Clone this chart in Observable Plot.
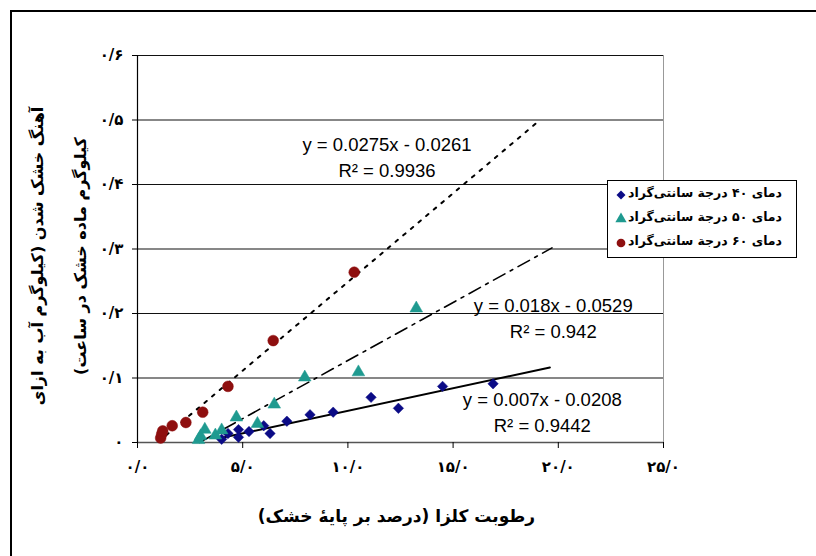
<!DOCTYPE html>
<html>
<head>
<meta charset="utf-8">
<script src="https://cdn.jsdelivr.net/npm/d3@7"></script>
<script src="https://cdn.jsdelivr.net/npm/@observablehq/plot@0.6"></script>
<style>
  html, body { margin: 0; padding: 0; background: #fff; }
  #wrap { position: relative; width: 816px; height: 556px; overflow: hidden; background: #fff; }
  #frame { position: absolute; left: 10px; top: 10px; width: 900px; height: 700px;
           border-top: 2px solid #000; border-left: 2px solid #000; box-sizing: border-box; pointer-events: none; }
  #legend { position: absolute; left: 607px; top: 180px; width: 190px; height: 78px;
            border: 1.5px solid #000; background: #fff; box-sizing: border-box;
            font-family: "DejaVu Sans", sans-serif; font-weight: bold; font-size: 12.5px; }
  .lrow { position: absolute; left: 0; width: 100%; height: 20px; }
  .lrow svg { position: absolute; left: 5px; top: 3px; }
  .lrow span { position: absolute; right: 14px; top: 1px; direction: rtl; white-space: nowrap; }
</style>
</head>
<body>
<div id="wrap"><div id="frame"></div></div>
<script>
// ---- data ----
const seriesNames = ["دمای ۴۰ درجة سانتی‌گراد", "دمای ۵۰ درجة سانتی‌گراد", "دمای ۶۰ درجة سانتی‌گراد"];
const seriesColors = ["#0b0b86", "#1f9a90", "#8e0f0f"];

const t40x = [4.0, 4.3, 4.8, 4.8, 5.3, 6.0, 6.3, 7.1, 8.2, 9.3, 11.1, 12.4, 14.5, 16.9];
const t40y = [0.005, 0.014, 0.020, 0.008, 0.017, 0.026, 0.014, 0.033, 0.043, 0.047, 0.070, 0.053, 0.087, 0.091];

const t50x = [2.9, 3.0, 3.2, 3.7, 4.0, 4.7, 5.7, 6.5, 7.95, 10.5, 13.25];
const t50y = [0.004, 0.010, 0.020, 0.011, 0.019, 0.039, 0.029, 0.059, 0.101, 0.109, 0.208];

const t60x = [1.1, 1.15, 1.2, 1.65, 2.3, 3.1, 4.3, 6.45, 10.3];
const t60y = [0.007, 0.013, 0.018, 0.026, 0.031, 0.047, 0.087, 0.158, 0.264];

// trendlines (Excel equations shown on the chart)
const slopes = [0.007, 0.018, 0.0275];
const intercepts = [-0.0208, -0.0529, -0.0261];
const trendFrom = [3.9, 2.94, 1.0];
const trendTo = [19.6, 19.7, 19.0];
const eqTexts = ["y = 0.007x - 0.0208", "y = 0.018x - 0.0529", "y = 0.0275x - 0.0261"];
const r2Texts = ["R² = 0.9442", "R² = 0.942", "R² = 0.9936"];

// axes
const xTicks = [0, 5, 10, 15, 20, 25];
const xTickLabels = ["۰/۰", "۵/۰", "۱۰/۰", "۱۵/۰", "۲۰/۰", "۲۵/۰"];
const yTicks = [0, 0.1, 0.2, 0.3, 0.4, 0.5, 0.6];
const yTickLabels = ["۰", "۰/۱", "۰/۲", "۰/۳", "۰/۴", "۰/۵", "۰/۶"];
const xTitle = "رطوبت کلزا (درصد بر پایهٔ خشک)";
const yTitle = "آهنگ خشک شدن (کیلوگرم آب به ازای\nکیلوگرم ماده خشک در ساعت)";

// ---- build tables ----
const xs = [t40x, t50x, t60x], ys = [t40y, t50y, t60y];
const points = [];
xs.forEach((arr, s) => arr.forEach((v, i) => points.push({s, x: v, y: ys[s][i]})));
const trends = [0, 1, 2].map(s => [
  {x: trendFrom[s], y: slopes[s] * trendFrom[s] + intercepts[s]},
  {x: trendTo[s], y: slopes[s] * trendTo[s] + intercepts[s]}
]);
// label anchors (data units) for the trendline equations
const eqAnchorX = [19.24, 19.76, 11.86];
const eqAnchorY = [0.0496, 0.195, 0.445];
const eqLabels = [0, 1, 2].map(s => ({x: eqAnchorX[s], y: eqAnchorY[s], t: eqTexts[s] + "\n" + r2Texts[s]}));

const xLab = new Map(xTicks.map((t, i) => [t, xTickLabels[i]]));
const yLab = new Map(yTicks.map((t, i) => [t, yTickLabels[i]]));

const symbols = ["diamond2", "triangle", "circle"];
const radii = [4.7, 4.7, 5.4];
const lineStyles = [
  {strokeWidth: 2, strokeDasharray: null},
  {strokeWidth: 1.6, strokeDasharray: "13,6,3,6"},
  {strokeWidth: 2, strokeDasharray: "3,7"}
];

const persianFont = "DejaVu Sans, sans-serif";

const chart = Plot.plot({
  width: 816, height: 556,
  marginLeft: 137, marginRight: 153, marginTop: 55, marginBottom: 114,
  x: {domain: [0, 25]},
  y: {domain: [0, 0.6]},
  style: {background: "transparent", fontFamily: "Liberation Sans, Arial, sans-serif", color: "#000"},
  marks: [
    Plot.gridY(yTicks.slice(1), {stroke: "#111", strokeOpacity: 1, strokeWidth: 1.2}),
    Plot.ruleX([25], {y1: 0, y2: 0.6, stroke: "#999", strokeWidth: 1}),
    Plot.ruleY([0], {stroke: "#555", strokeWidth: 1.5}),
    Plot.ruleX([0], {y1: 0, y2: 0.6, stroke: "#000", strokeWidth: 1.2}),
    Plot.axisY({ticks: yTicks, tickFormat: d => yLab.get(d), tickSize: 5, tickPadding: 9,
      fontSize: 15, fontWeight: "bold", fontFamily: persianFont, label: null}),
    Plot.axisX({ticks: xTicks, tickFormat: d => xLab.get(d), tickSize: 6, tickPadding: 13,
      fontSize: 15, fontWeight: "bold", fontFamily: persianFont, label: null}),
    ...[0, 1, 2].map(s => Plot.line(trends[s], {x: "x", y: "y", stroke: "#000", ...lineStyles[s]})),
    ...[0, 1, 2].map(s => Plot.dot(points.filter(p => p.s === s),
      {x: "x", y: "y", symbol: () => symbols[s], r: radii[s], fill: seriesColors[s], stroke: seriesColors[s], strokeWidth: 0.5})),
    Plot.text(eqLabels, {x: "x", y: "y", text: "t", fontSize: 18.5, lineHeight: 1.42,
      fontFamily: "Liberation Sans, Arial, sans-serif", fill: "#000"}),
    Plot.text([xTitle], {frameAnchor: "bottom", textAnchor: "middle", dy: 79, dx: -4, fontSize: 17, fontWeight: "bold", fontFamily: persianFont}),
    Plot.text([yTitle], {frameAnchor: "left", textAnchor: "middle", lineAnchor: "middle", rotate: -90, dx: -87, dy: 7, lineHeight: 2.7,
      fontSize: 16, fontWeight: "bold", fontFamily: persianFont})
  ]
});
chart.style.position = "absolute";
chart.style.left = "0px";
chart.style.top = "0px";
const wrap = document.getElementById("wrap");
wrap.insertBefore(chart, wrap.firstChild);

// right-to-left paragraphs for Persian titles
const persianLetters = /[\u0621-\u064A\u067E\u0686\u0698\u06A9\u06AF\u06CC]/;
d3.select(chart).selectAll("text").each(function () {
  if (persianLetters.test(this.textContent)) this.setAttribute("direction", "rtl");
});

// legend (HTML overlay inside the plot area, as in the reference)
const legend = document.createElement("div");
legend.id = "legend";
const legendTop = [3, 27, 51];
seriesNames.forEach((name, s) => {
  const row = document.createElement("div");
  row.className = "lrow";
  row.style.top = legendTop[s] + "px";
  const sym = d3.symbol(s === 0 ? d3.symbolSquare : s === 1 ? d3.symbolTriangle : d3.symbolCircle,
    s === 0 ? 40 : s === 1 ? 55 : 60)();
  row.innerHTML = `<svg width="16" height="16"><path d="${sym}" transform="translate(8,8)${s === 0 ? " rotate(45)" : ""}" fill="${seriesColors[s]}"/></svg><span>${name}</span>`;
  legend.appendChild(row);
});
wrap.appendChild(legend);
</script>
</body>
</html>
